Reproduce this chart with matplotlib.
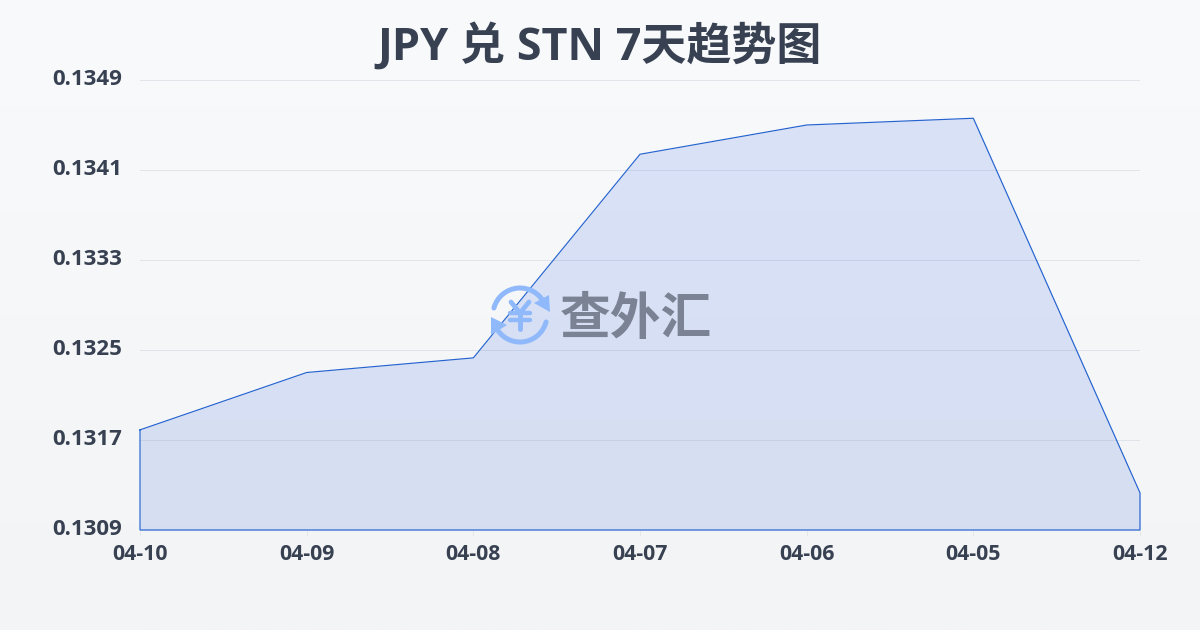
import numpy as np
import matplotlib
matplotlib.use("Agg")
import matplotlib.pyplot as plt
from matplotlib.patches import Arc, Polygon
from matplotlib.transforms import ScaledTranslation

plt.rcParams["font.family"] = ["Open Sans", "Noto Sans CJK SC", "DejaVu Sans"]

TITLE = "JPY 兑 STN 7天趋势图"
DATES = ["04-10", "04-09", "04-08", "04-07", "04-06", "04-05", "04-12"]
RATES = [0.13179, 0.13230, 0.13243, 0.13424, 0.13450, 0.13456, 0.13123]
Y_TICKS = [0.1309, 0.1317, 0.1325, 0.1333, 0.1341, 0.1349]

W, H = 1200, 630
TEXT = "#374151"
BLUE = "#2563d0"

fig = plt.figure(figsize=(W / 100, H / 100), dpi=100)

# page background, light vertical gradient
bg = fig.add_axes([0, 0, 1, 1], zorder=0)
bg.imshow(np.linspace(0, 1, 256).reshape(-1, 1),
          cmap=matplotlib.colors.LinearSegmentedColormap.from_list("bg", ["#f9fafc", "#f3f4f6"]),
          aspect="auto", extent=[0, 1, 0, 1])
bg.axis("off")

ax = fig.add_axes([140 / W, 1 - 530 / H, 1000 / W, 450 / H], zorder=1)
ax.patch.set_alpha(0)
x = np.arange(len(DATES))
ax.fill_between(x, RATES, Y_TICKS[0], color="#2b62d9", alpha=0.15, lw=0, zorder=2)
ax.plot(list(x) + [x[-1], x[0], x[0]],
        RATES + [Y_TICKS[0], Y_TICKS[0], RATES[0]],
        color=BLUE, lw=0.85, solid_joinstyle="miter", clip_on=False, zorder=3)

ax.set_xlim(0, len(DATES) - 1)
ax.set_ylim(Y_TICKS[0], Y_TICKS[-1])
ax.set_xticks(x)
ax.set_xticklabels(DATES, fontsize=15.3, fontweight="bold", color=TEXT)
ax.set_yticks(Y_TICKS)
ax.set_yticklabels([f"{v:.4f}" for v in Y_TICKS], fontsize=16, fontweight="bold", color=TEXT)
ax.tick_params(axis="x", length=4.3, width=0.7, color="#e5e7eb", pad=6)
ax.tick_params(axis="y", length=0, pad=13)
up = ScaledTranslation(0, 2 / 72, fig.dpi_scale_trans)
for lab in ax.get_yticklabels():
    lab.set_transform(lab.get_transform() + up)
ax.grid(axis="y", color="#d9dee6", lw=0.7, alpha=0.75, zorder=1)
ax.set_axisbelow(True)
for s in ax.spines.values():
    s.set_visible(False)

fig.text(600 / W, 1 - 47 / H, TITLE, fontsize=32.4, fontweight="bold", color=TEXT,
         ha="center", va="center")

# watermark, drawn in page pixels
wm = fig.add_axes([0, 0, 1, 1], zorder=2)
wm.set_xlim(0, W)
wm.set_ylim(H, 0)
wm.axis("off")
ICON = "#8fb9fb"
wm.add_patch(Arc((520, 315), 54, 54, theta1=195, theta2=335, color=ICON, lw=3.6, capstyle="round"))
wm.add_patch(Arc((520, 315), 54, 54, theta1=15, theta2=155, color=ICON, lw=3.6, capstyle="round"))
wm.add_patch(Polygon([[549, 295], [550, 312], [534, 303]], color=ICON, lw=0))
wm.add_patch(Polygon([[491, 317], [507, 325], [491, 335]], color=ICON, lw=0))
wm.plot([511, 520, 529], [302, 313, 302], color=ICON, lw=3.4, solid_capstyle="round")
wm.plot([520, 520], [313, 329], color=ICON, lw=3.6, solid_capstyle="round")
wm.plot([510, 530], [313, 313], color=ICON, lw=3.2, solid_capstyle="round")
wm.plot([510, 530], [320, 320], color=ICON, lw=3.2, solid_capstyle="round")
wm.text(636, 321, "查外汇", fontsize=36.5, fontweight="bold", color="#7a8294",
        ha="center", va="center")

fig.savefig("out.png", dpi=100)
